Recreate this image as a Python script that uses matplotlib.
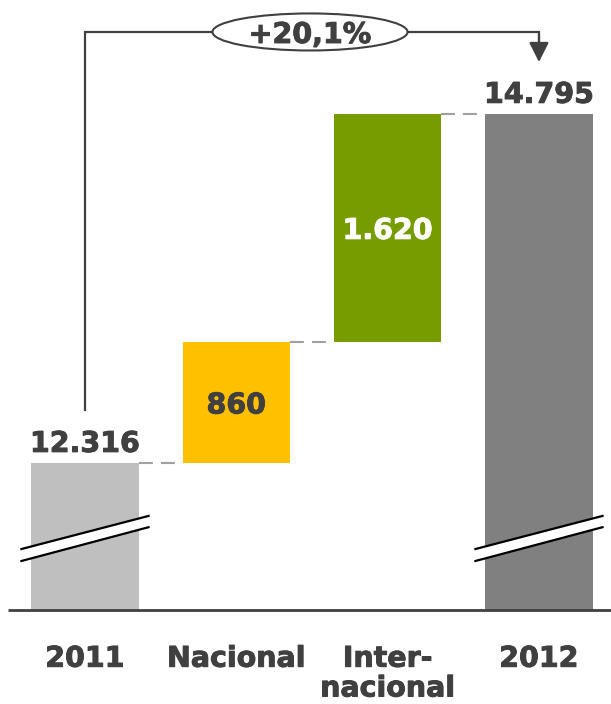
import matplotlib
matplotlib.use('Agg')
import matplotlib.pyplot as plt
import matplotlib.patheffects as pe
from matplotlib.patches import Ellipse, Polygon

plt.rcParams['font.family'] = ['DejaVu Sans']
plt.rcParams['lines.scale_dashes'] = False

categories = ['2011', 'Nacional', 'Inter-\nnacional', '2012']
start_value = 12316
end_value = 14795
steps = [860, 1620]
value_labels = ['12.316', '860', '1.620', '14.795']
growth_label = '+20,1%'

colors = ['#bfbfbf', '#ffc000', '#779c00', '#808080']
text_dark = '#404040'
base = 11272          # broken axis: bars start here
top = 15604
width = 0.71


def heavy(color):
    # a touch of stroke to get closer to the heavier original font
    return [pe.withStroke(linewidth=0.7, foreground=color)]


fig = plt.figure(figsize=(6.11, 7.04), dpi=100)
ax = fig.add_axes([0, 94 / 704, 1, 610 / 704])
ax.set_xlim(-0.5617, 3.476)
ax.set_ylim(base, top)
ax.axis('off')

# bars
bottoms = [base, start_value, start_value + steps[0], base]
tops = [start_value, start_value + steps[0], start_value + steps[0] + steps[1], end_value]
for i in range(4):
    ax.bar(i, tops[i] - bottoms[i], bottom=bottoms[i], width=width,
           color=colors[i], linewidth=0)

# dashed connectors
levels = [start_value, start_value + steps[0], end_value]
for i, lv in enumerate(levels):
    ax.plot([i + width / 2, i + 1 - width / 2], [lv, lv], color='#a0a0a0',
            lw=1.5, dashes=(10, 5.8))

# baseline
ax.plot([-0.51, 3.476], [base, base], color=text_dark, lw=2, clip_on=False,
        solid_capstyle='butt')

# break marks on 2011 and 2012
for i in (0, 3):
    x0, x1 = i - 0.42, i + 0.42
    up = (base + 433, base + 668)
    lo = (base + 348, base + 588)
    ax.add_patch(Polygon([(x0, lo[0]), (x1, lo[1]), (x1, up[1]), (x0, up[0])],
                         closed=True, facecolor='white', edgecolor='none', zorder=3))
    ax.plot([x0, x1], up, color='black', lw=1.6, zorder=4)
    ax.plot([x0, x1], lo, color='black', lw=1.6, zorder=4)

# value labels
fs = 20.5
ax.annotate(value_labels[0], (0, start_value), xytext=(0, 8), textcoords='offset points',
            ha='center', va='baseline', fontsize=fs, fontweight='bold', color=text_dark,
            path_effects=heavy(text_dark))
ax.annotate(value_labels[3], (3, end_value), xytext=(0, 8), textcoords='offset points',
            ha='center', va='baseline', fontsize=fs, fontweight='bold', color=text_dark,
            path_effects=heavy(text_dark))
ax.text(1, (bottoms[1] + tops[1]) / 2, value_labels[1], ha='center', va='center_baseline',
        fontsize=fs, fontweight='bold', color=text_dark, path_effects=heavy(text_dark))
ax.text(2, (bottoms[2] + tops[2]) / 2, value_labels[2], ha='center', va='center_baseline',
        fontsize=fs, fontweight='bold', color='white', path_effects=heavy('white'))

# category labels
for i, c in enumerate(categories):
    ax.annotate(c, (i, base), xytext=(0, -25), textcoords='offset points',
                ha='center', va='top', fontsize=fs, fontweight='bold',
                color=text_dark, linespacing=1.08, annotation_clip=False,
                path_effects=heavy(text_dark))

# growth bracket
y_top = top - 227
ax.plot([0, 0, 3, 3], [start_value + 376, y_top, y_top, end_value + 500],
        color=text_dark, lw=1.6, clip_on=False, solid_joinstyle='miter')
ax.annotate('', xy=(3, end_value + 368), xytext=(3, end_value + 560),
            arrowprops=dict(arrowstyle='-|>,head_length=1.2,head_width=0.6',
                            color=text_dark, lw=1.6, shrinkA=0, shrinkB=0))
ax.add_patch(Ellipse((1.487, y_top), 1.289, 263, facecolor='white',
                     edgecolor=text_dark, lw=1.5, zorder=5, clip_on=False))
ax.text(1.487, y_top, growth_label, ha='center', va='center_baseline', fontsize=fs,
        fontweight='bold', color=text_dark, zorder=6, path_effects=heavy(text_dark))

fig.savefig('out.png', dpi=100)
